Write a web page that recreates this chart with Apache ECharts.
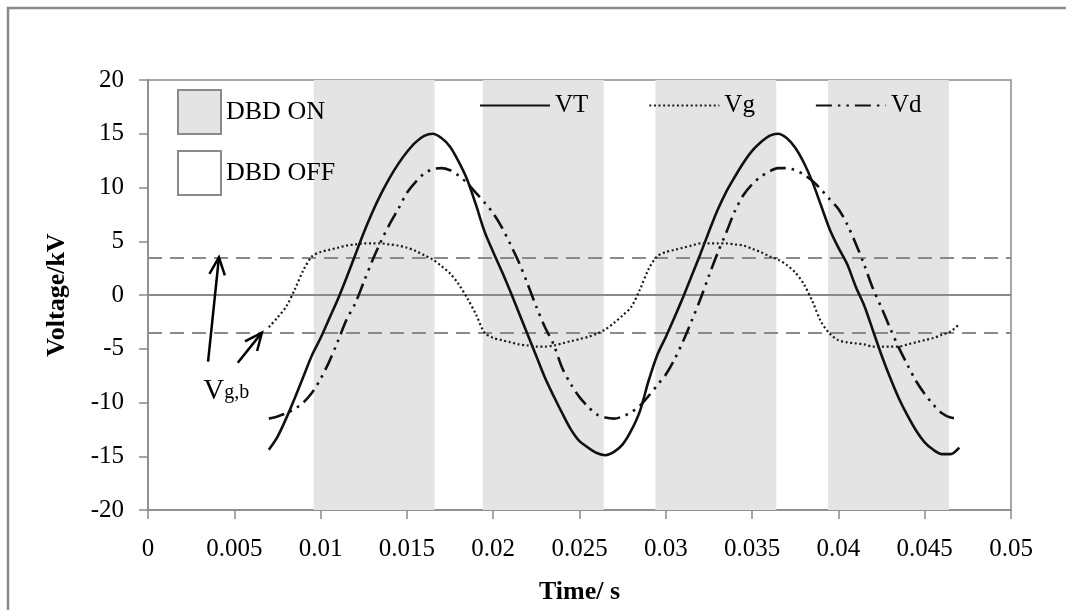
<!DOCTYPE html>
<html>
<head>
<meta charset="utf-8">
<title>Voltage waveforms</title>
<script src="https://cdn.jsdelivr.net/npm/echarts@6/dist/echarts.min.js"></script>
<style>
  html, body { margin: 0; padding: 0; background: #fff; }
  #chart { width: 1066px; height: 610px; }
</style>
</head>
<body>
<div id="chart"></div>
<script>
// Sample times (s)
const timeS = [
  0.0070, 0.0075, 0.0080, 0.0085, 0.0090, 0.0095, 0.0100, 0.0105, 0.0110, 0.0115,
  0.0120, 0.0125, 0.0130, 0.0135, 0.0140, 0.0145, 0.0150, 0.0155, 0.0160, 0.0165,
  0.0170, 0.0175, 0.0180, 0.0185, 0.0190, 0.0195, 0.0200, 0.0205, 0.0210, 0.0215,
  0.0220, 0.0225, 0.0230, 0.0235, 0.0240, 0.0245, 0.0250, 0.0255, 0.0260, 0.0265,
  0.0270, 0.0275, 0.0280, 0.0285, 0.0290, 0.0295, 0.0300, 0.0305, 0.0310, 0.0315,
  0.0320, 0.0325, 0.0330, 0.0335, 0.0340, 0.0345, 0.0350, 0.0355, 0.0360, 0.0365,
  0.0370, 0.0375, 0.0380, 0.0385, 0.0390, 0.0395, 0.0400, 0.0405, 0.0410, 0.0415,
  0.0420, 0.0425, 0.0430, 0.0435, 0.0440, 0.0445, 0.0450, 0.0455, 0.0460, 0.0465,
  0.0470
];

// Applied voltage VT (kV)
const vT = [
  -14.4, -13.2, -11.5, -9.6, -7.6, -5.6, -4.0, -2.2, -0.4, 1.6,
  3.7, 5.8, 7.7, 9.4, 10.9, 12.2, 13.3, 14.2, 14.8, 15.0,
  14.6, 13.8, 12.4, 10.7, 8.4, 5.9, 4.0, 2.2, 0.3, -1.7,
  -3.7, -5.7, -7.7, -9.4, -11.0, -12.5, -13.6, -14.2, -14.7, -14.9,
  -14.6, -13.9, -12.6, -10.8, -8.0, -5.6, -3.9, -2.1, -0.2, 1.8,
  3.8, 5.9, 7.9, 9.6, 11.0, 12.3, 13.4, 14.2, 14.8, 15.0,
  14.6, 13.7, 12.3, 10.5, 8.3, 6.1, 4.4, 2.9, 0.8, -1.0,
  -3.3, -5.6, -7.7, -9.6, -11.2, -12.6, -13.7, -14.4, -14.8, -14.8,
  -14.2
];

// Gap voltage Vg (kV)
const vG = [
  -3.0, -2.1, -1.1, 0.5, 2.3, 3.6, 4.0, 4.2, 4.4, 4.6,
  4.7, 4.8, 4.8, 4.8, 4.7, 4.6, 4.4, 4.1, 3.7, 3.3,
  2.7, 2.0, 1.0, -0.3, -1.8, -3.5, -4.0, -4.2, -4.4, -4.6,
  -4.7, -4.8, -4.8, -4.7, -4.5, -4.3, -4.1, -3.9, -3.6, -3.2,
  -2.6, -1.9, -1.1, 0.5, 2.4, 3.6, 4.0, 4.2, 4.4, 4.6,
  4.8, 4.8, 4.8, 4.8, 4.7, 4.6, 4.3, 4.0, 3.6, 3.3,
  2.8, 2.1, 1.0, -0.6, -2.5, -3.6, -4.2, -4.4, -4.5, -4.6,
  -4.8, -4.8, -4.8, -4.8, -4.6, -4.4, -4.2, -4.0, -3.7, -3.4,
  -2.7
];

// Dielectric voltage Vd (kV)
const vD = [
  -11.5, -11.3, -11.0, -10.6, -10.0, -9.1, -7.8, -6.2, -4.3, -2.3,
  -0.8, 1.2, 3.2, 5.0, 6.6, 8.0, 9.5, 10.5, 11.3, 11.7,
  11.8, 11.6, 11.1, 10.4, 9.5, 8.6, 7.6, 6.3, 4.7, 3.0,
  1.0, -1.1, -3.0, -4.6, -6.8, -8.3, -9.5, -10.4, -11.1, -11.4,
  -11.5, -11.3, -10.9, -10.3, -9.4, -8.4, -7.4, -6.0, -4.3, -2.4,
  -0.4, 1.8, 3.9, 5.8, 7.8, 9.3, 10.3, 11.0, 11.5, 11.8,
  11.8, 11.6, 11.2, 10.6, 9.8, 8.9, 8.0, 6.6, 4.8, 2.8,
  0.6, -1.2, -3.1, -4.9, -6.5, -8.0, -9.2, -10.2, -11.0, -11.4,
  -11.5
];

// Discharge-on intervals (s)
const dbdOnStart = [0.0096, 0.0194, 0.0294, 0.0394];
const dbdOnEnd   = [0.0166, 0.0264, 0.0364, 0.0464];

// Gas breakdown voltage levels ±Vg,b (kV)
const vgbLevels = [3.5, -3.5];

// Axis ranges
const xMin = 0, xMax = 0.05, xStep = 0.005;
const yMin = -20, yMax = 20, yStep = 5;

const FONT = '"Liberation Serif", "Times New Roman", serif';
const AXIS_GREY = '#8a8a8a';

const pair = (vals) => timeS.map((t, i) => [t, vals[i]]);
const bands = dbdOnStart.map((s, i) => [s, dbdOnEnd[i]]);

const chart = echarts.init(document.getElementById('chart'), null, { renderer: 'canvas' });

const option = {
  animation: false,
  backgroundColor: '#fff',
  textStyle: { fontFamily: FONT, color: '#000' },
  grid: {
    left: 148, right: 55, top: 80, bottom: 100,
    show: true, borderColor: AXIS_GREY, borderWidth: 1.5, backgroundColor: 'transparent'
  },
  legend: [
    {
      orient: 'vertical',
      left: 177, top: 89, padding: 0,
      itemWidth: 43, itemHeight: 44, itemGap: 15,
      icon: 'rect',
      selectedMode: false,
      textStyle: { fontFamily: FONT, fontSize: 26, color: '#000' },
      data: [
        { name: 'DBD ON', itemStyle: { color: '#e4e4e4', borderColor: '#8a8a8a', borderWidth: 2 } },
        { name: 'DBD OFF', itemStyle: { color: '#ffffff', borderColor: '#8a8a8a', borderWidth: 2 } }
      ]
    },
    {
      orient: 'horizontal',
      left: 479, top: 93, padding: 0,
      itemWidth: 70, itemHeight: 14, itemGap: 60,
      selectedMode: false,
      itemStyle: { opacity: 0 },
      textStyle: { fontFamily: FONT, fontSize: 25, color: '#000' },
      data: ['VT', 'Vg', 'Vd']
    }
  ],
  xAxis: {
    type: 'value',
    min: xMin, max: xMax, interval: xStep,
    name: 'Time/ s',
    nameLocation: 'middle',
    nameGap: 69,
    nameTextStyle: { fontFamily: FONT, fontSize: 26, fontWeight: 'bold', color: '#000' },
    axisLine: { show: true, onZero: false, lineStyle: { color: AXIS_GREY, width: 1.5 } },
    axisTick: { show: true, inside: false, length: 9, lineStyle: { color: AXIS_GREY, width: 1.5 } },
    axisLabel: {
      margin: 27, fontFamily: FONT, fontSize: 25, color: '#000',
      formatter: (v) => String(+v.toFixed(3))
    },
    splitLine: { show: false }
  },
  yAxis: {
    type: 'value',
    min: yMin, max: yMax, interval: yStep,
    name: 'Voltage/kV',
    nameLocation: 'middle',
    nameGap: 78,
    nameRotate: 90,
    nameTextStyle: { fontFamily: FONT, fontSize: 26, fontWeight: 'bold', color: '#000' },
    axisLine: { show: true, onZero: false, lineStyle: { color: AXIS_GREY, width: 1.5 } },
    axisTick: { show: true, inside: false, length: 9, lineStyle: { color: AXIS_GREY, width: 1.5 } },
    axisLabel: { margin: 24, fontFamily: FONT, fontSize: 25, color: '#000' },
    splitLine: { show: false }
  },
  series: [
    {
      name: 'DBD ON',
      type: 'custom',
      z: 1,
      silent: true,
      itemStyle: { color: '#e4e4e4' },
      encode: { x: [0, 1] },
      data: bands,
      renderItem: (params, api) => {
        const p0 = api.coord([api.value(0), yMax]);
        const p1 = api.coord([api.value(1), yMin]);
        return {
          type: 'rect',
          shape: { x: p0[0], y: p0[1], width: p1[0] - p0[0], height: p1[1] - p0[1] },
          style: { fill: '#e4e4e4' }
        };
      }
    },
    {
      name: 'DBD OFF',
      type: 'custom',
      z: 1,
      silent: true,
      itemStyle: { color: '#ffffff' },
      data: [],
      renderItem: () => null
    },
    {
      name: 'VT',
      type: 'line',
      z: 5,
      symbol: 'none',
      smooth: 0.3,
      data: pair(vT),
      lineStyle: { color: '#111', width: 2.6, type: 'solid' },
      itemStyle: { color: '#111' },
      markLine: {
        silent: true,
        symbol: 'none',
        label: { show: false },
        z: 3,
        data: [
          { yAxis: 0, lineStyle: { color: AXIS_GREY, width: 2, type: 'solid' } },
          { yAxis: vgbLevels[0], lineStyle: { color: AXIS_GREY, width: 2, type: [14, 8] } },
          { yAxis: vgbLevels[1], lineStyle: { color: AXIS_GREY, width: 2, type: [14, 8] } }
        ]
      }
    },
    {
      name: 'Vg',
      type: 'line',
      z: 5,
      symbol: 'none',
      smooth: 0.3,
      data: pair(vG),
      lineStyle: { color: '#1a1a1a', width: 2.2, type: [2, 2.6] },
      itemStyle: { color: '#1a1a1a' }
    },
    {
      name: 'Vd',
      type: 'line',
      z: 5,
      symbol: 'none',
      smooth: 0.3,
      data: pair(vD),
      lineStyle: { color: '#111', width: 2.6, type: [16, 6, 2.5, 6, 2.5, 6] },
      itemStyle: { color: '#111' }
    }
  ]
};

chart.setOption(option);

// Annotation: arrows pointing at the ±Vg,b levels, placed in data space
const toPx = (t, v) => chart.convertToPixel({ gridIndex: 0 }, [t, v]);
function arrow(tail, head) {
  const a = toPx(tail[0], tail[1]);
  const b = toPx(head[0], head[1]);
  const ang = Math.atan2(b[1] - a[1], b[0] - a[0]);
  const len = 19, spread = 0.42;
  const w1 = [b[0] - len * Math.cos(ang - spread), b[1] - len * Math.sin(ang - spread)];
  const w2 = [b[0] - len * Math.cos(ang + spread), b[1] - len * Math.sin(ang + spread)];
  const st = { stroke: '#000', lineWidth: 2.5, fill: null };
  return [
    { type: 'line', shape: { x1: a[0], y1: a[1], x2: b[0], y2: b[1] }, style: st, z: 20 },
    { type: 'polyline', shape: { points: [w1, b, w2] }, style: st, z: 20 }
  ];
}
const labelPos = toPx(0.0032, -7.6);

chart.setOption({
  graphic: [
    {
      type: 'rect', z: 30, silent: true,
      shape: { x: 8, y: 8, width: 1100, height: 650 },
      style: { fill: null, stroke: '#8a8a8a', lineWidth: 2.5 }
    },
    ...arrow([0.00348, -6.2], [0.00411, vgbLevels[0]]),
    ...arrow([0.0052, -6.3], [0.0066, vgbLevels[1]]),
    {
      type: 'text', z: 20, silent: true,
      x: labelPos[0], y: labelPos[1],
      style: { text: 'V', font: '29px ' + FONT, fill: '#000', textVerticalAlign: 'top' }
    },
    {
      type: 'text', z: 20, silent: true,
      x: labelPos[0] + 21, y: labelPos[1] + 6,
      style: { text: 'g,b', font: '20px ' + FONT, fill: '#000', textVerticalAlign: 'top' }
    }
  ]
});
</script>
</body>
</html>
